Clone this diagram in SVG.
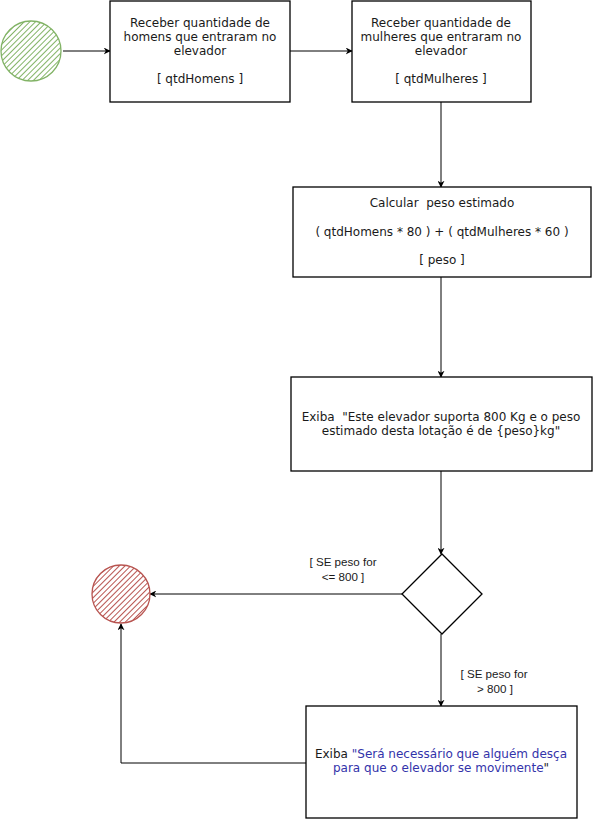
<svg xmlns="http://www.w3.org/2000/svg" width="593" height="820" viewBox="0 0 593 820">
  <style>
    .box { fill: #ffffff; stroke: #000000; stroke-width: 1.3; }
    .txt { font-family: "DejaVu Sans", Verdana, sans-serif; font-size: 12px; fill: #1a1a1a; text-anchor: middle; }
    .lbl { font-family: "Liberation Sans", Arial, sans-serif; font-size: 11.6px; fill: #1a1a1a; text-anchor: middle; }
    .blue { fill: #3333aa; }
    .edge { fill: none; stroke: #000000; stroke-width: 1; }
  </style>
  <defs>
    <pattern id="hatchGreen" width="4" height="4" patternUnits="userSpaceOnUse" patternTransform="rotate(45)">
      <line x1="0" y1="0" x2="0" y2="4" stroke="#82b366" stroke-width="2"/>
    </pattern>
    <pattern id="hatchRed" width="4" height="4" patternUnits="userSpaceOnUse" patternTransform="rotate(45)">
      <line x1="0" y1="0" x2="0" y2="4" stroke="#b85450" stroke-width="2"/>
    </pattern>
    <marker id="arrow" viewBox="0 0 10 10" refX="9" refY="5" markerWidth="7" markerHeight="7" orient="auto" markerUnits="userSpaceOnUse">
      <path d="M0,0 L10,5 L0,10 L3,5 Z" fill="#000000"/>
    </marker>
  </defs>

  <!-- connectors -->
  <g id="connectors">
    <path class="edge" d="M63,51 L110,51" marker-end="url(#arrow)"/>
    <path class="edge" d="M290,51 L352,51" marker-end="url(#arrow)"/>
    <path class="edge" d="M441,102 L441,187" marker-end="url(#arrow)"/>
    <path class="edge" d="M441,277 L441,377" marker-end="url(#arrow)"/>
    <path class="edge" d="M441,471 L441,554" marker-end="url(#arrow)"/>
    <path class="edge" d="M402,594 L150,594" marker-end="url(#arrow)"/>
    <path class="edge" d="M441,634 L441,706" marker-end="url(#arrow)"/>
    <path class="edge" d="M306,763 L121,763 L121,624" marker-end="url(#arrow)"/>
    <text class="lbl" x="343" y="566">[ SE peso for</text>
    <text class="lbl" x="343" y="581">&lt;= 800 ]</text>
    <text class="lbl" x="494" y="678">[ SE peso for</text>
    <text class="lbl" x="495" y="693">&gt; 800 ]</text>
  </g>

  <!-- start -->
  <g id="start">
    <circle cx="31" cy="51" r="30" fill="url(#hatchGreen)" stroke="#82b366" stroke-width="1.3"/>
  </g>

  <!-- read number of men -->
  <g id="lerHomens">
    <rect class="box" x="110" y="1" width="180" height="101"/>
    <text class="txt" x="200" y="27">Receber quantidade de</text>
    <text class="txt" x="200" y="41">homens que entraram no</text>
    <text class="txt" x="200" y="55">elevador</text>
    <text class="txt" x="200" y="83">[ qtdHomens ]</text>
  </g>

  <!-- read number of women -->
  <g id="lerMulheres">
    <rect class="box" x="352" y="1" width="179" height="101"/>
    <text class="txt" x="441" y="27">Receber quantidade de</text>
    <text class="txt" x="441" y="41">mulheres que entraram no</text>
    <text class="txt" x="441" y="55">elevador</text>
    <text class="txt" x="441" y="83">[ qtdMulheres ]</text>
  </g>

  <!-- weight calculation -->
  <g id="calcularPeso">
    <rect class="box" x="293" y="187" width="298" height="90"/>
    <text class="txt" x="442" y="207" xml:space="preserve">Calcular  peso estimado</text>
    <text class="txt" x="442" y="236">( qtdHomens * 80 ) + ( qtdMulheres * 60 )</text>
    <text class="txt" x="442" y="264">[ peso ]</text>
  </g>

  <!-- show weight -->
  <g id="exibePeso">
    <rect class="box" x="291" y="377" width="301" height="94"/>
    <text class="txt" x="441" y="421" xml:space="preserve">Exiba  "Este elevador suporta 800 Kg e o peso</text>
    <text class="txt" x="441" y="435">estimado desta lotação é de {peso}kg"</text>
  </g>

  <!-- decision -->
  <g id="decisao">
    <polygon points="442,554 482,594 442,634 402,594" fill="#ffffff" stroke="#000000" stroke-width="1.3"/>
  </g>

  <!-- end -->
  <g id="fim">
    <circle cx="121" cy="594" r="29" fill="url(#hatchRed)" stroke="#b85450" stroke-width="1.3"/>
  </g>

  <!-- overweight message -->
  <g id="exibeAviso">
    <rect class="box" x="306" y="706" width="271" height="112"/>
    <text class="txt" x="441" y="758">Exiba <tspan class="blue">"Será necessário que alguém desça</tspan></text>
    <text class="txt blue" x="441" y="772">para que o elevador se movimente<tspan fill="#1a1a1a">"</tspan></text>
  </g>
</svg>
